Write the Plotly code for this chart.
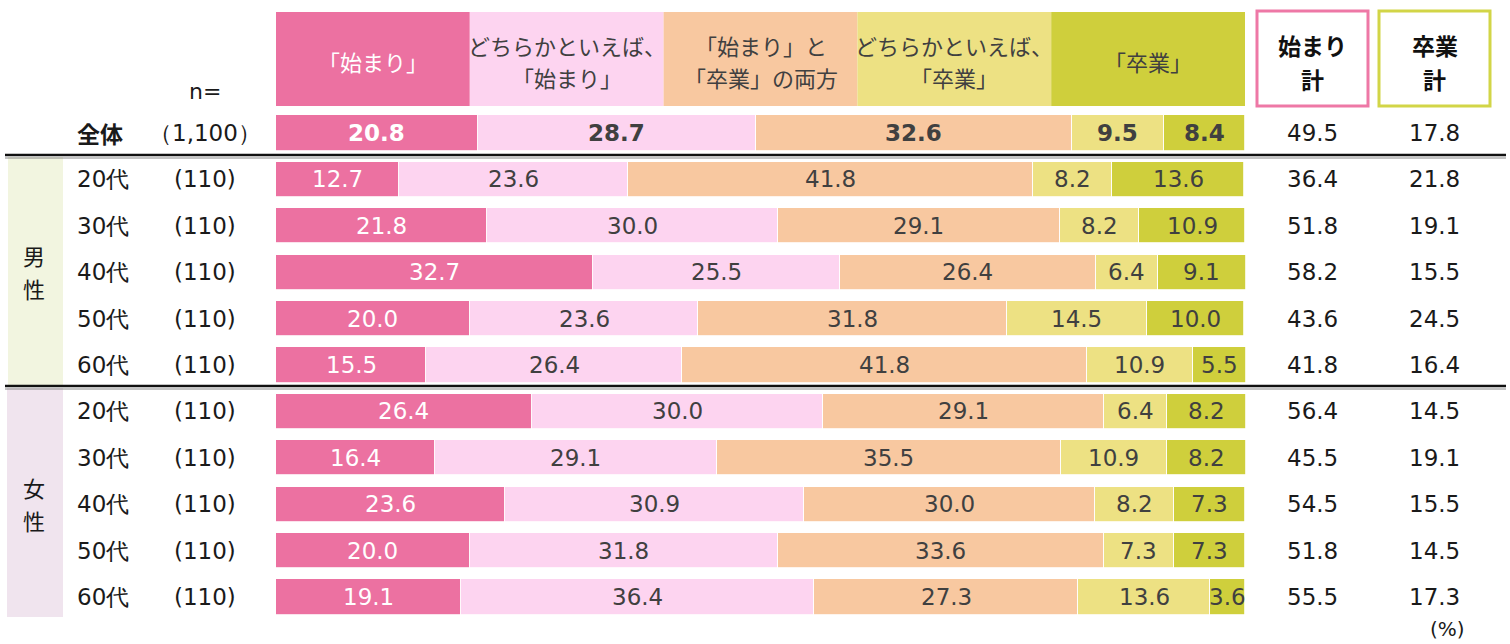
import plotly.graph_objects as go

W, H = 1510, 644

# ---------------- data ----------------
row_labels = ["全体", "20代", "30代", "40代", "50代", "60代", "20代", "30代", "40代", "50代", "60代"]
n_labels = ["（1,100）"] + ["(110)"] * 10
series_names = [["「始まり」"], ["どちらかといえば、", "「始まり」"], ["「始まり」と", "「卒業」の両方"],
                ["どちらかといえば、", "「卒業」"], ["「卒業」"]]
s_hajimari = [20.8, 12.7, 21.8, 32.7, 20.0, 15.5, 26.4, 16.4, 23.6, 20.0, 19.1]
s_dochira_h = [28.7, 23.6, 30.0, 25.5, 23.6, 26.4, 30.0, 29.1, 30.9, 31.8, 36.4]
s_ryouhou = [32.6, 41.8, 29.1, 26.4, 31.8, 41.8, 29.1, 35.5, 30.0, 33.6, 27.3]
s_dochira_s = [9.5, 8.2, 8.2, 6.4, 14.5, 10.9, 6.4, 10.9, 8.2, 7.3, 13.6]
s_sotsugyo = [8.4, 13.6, 10.9, 9.1, 10.0, 5.5, 8.2, 8.2, 7.3, 7.3, 3.6]
total_hajimari = [49.5, 36.4, 51.8, 58.2, 43.6, 41.8, 56.4, 45.5, 54.5, 51.8, 55.5]
total_sotsugyo = [17.8, 21.8, 19.1, 15.5, 24.5, 16.4, 14.5, 19.1, 15.5, 14.5, 17.3]
total_headers = [["始まり", "計"], ["卒業", "計"]]
group_labels = [["男", "性"], ["女", "性"]]

series = [s_hajimari, s_dochira_h, s_ryouhou, s_dochira_s, s_sotsugyo]
colors = ["#EC71A1", "#FDD4F0", "#F8C8A0", "#EDE183", "#CFCF3C"]
text_colors = ["#FFFFFF", "#404040", "#404040", "#404040", "#404040"]

NUM_FONT = "DejaVu Sans"
JP_FONT = "Noto Sans CJK JP"

# ---------------- geometry helpers ----------------
x0_px, x100_px = 276, 1245
ppu = (x100_px - x0_px) / 100.0
x_range = [-x0_px / ppu, (W - x0_px) / ppu]
row0_px, row_step = 133, 46.4
y_range = [(H - row0_px) / row_step, -row0_px / row_step]

def px(x):
    return x / W

def py(y):
    return 1 - y / H

def ux(xp):
    return (xp - x0_px) / ppu

rows = list(range(len(row_labels)))

fig = go.Figure()
for s, name, c in zip(series, series_names, colors):
    fig.add_trace(go.Bar(
        y=rows, x=s, orientation="h", name="".join(name),
        marker=dict(color=c, line=dict(color="white", width=0.8)),
        width=0.76, hoverinfo="skip", showlegend=False,
    ))

annotations = []
shapes = []

def lines_at(lines, y_center, spacing):
    n = len(lines)
    return [(ln, y_center + (j - (n - 1) / 2) * spacing) for j, ln in enumerate(lines)]

# segment labels
for i in rows:
    cum = 0.0
    for k, s in enumerate(series):
        v = s[i]
        mid = cum + v / 2
        cum += v
        annotations.append(dict(
            x=mid, y=i, xref="x", yref="y", text=f"<b>{v:.1f}</b>" if i == 0 else f"{v:.1f}",
            showarrow=False, font=dict(family=NUM_FONT, size=23, color=text_colors[k]),
            xanchor="center", yanchor="middle"))

# totals
for i in rows:
    for val, xp in ((total_hajimari[i], 1312), (total_sotsugyo[i], 1434)):
        annotations.append(dict(
            x=ux(xp), y=i, xref="x", yref="y", text=f"{val:.1f}", showarrow=False,
            font=dict(family=NUM_FONT, size=23, color="#1a1a1a"),
            xanchor="center", yanchor="middle"))

# row labels
for i in rows:
    lab = f"<b>{row_labels[i]}</b>" if i == 0 else row_labels[i]
    annotations.append(dict(
        x=px(75), y=i, xref="paper", yref="y", text=lab, showarrow=False,
        font=dict(family=JP_FONT if i == 0 else NUM_FONT, size=23, color="#1a1a1a"),
        xanchor="left", yanchor="middle"))
    annotations.append(dict(
        x=px(205), y=i, xref="paper", yref="y", text=n_labels[i], showarrow=False,
        font=dict(family=NUM_FONT, size=23, color="#1a1a1a"),
        xanchor="center", yanchor="middle"))

annotations.append(dict(x=px(205), y=py(92), xref="paper", yref="paper", text="n=",
                        showarrow=False, font=dict(family=NUM_FONT, size=22, color="#1a1a1a"),
                        xanchor="center", yanchor="middle"))

# header cells
for k, (name, c) in enumerate(zip(series_names, colors)):
    shapes.append(dict(type="rect", xref="x", yref="paper", x0=20 * k, x1=20 * (k + 1),
                       y0=py(106), y1=py(12), fillcolor=c, line=dict(width=0), layer="below"))
    for ln, yc in lines_at(name, 61, 33):
        annotations.append(dict(x=20 * k + 10, y=py(yc), xref="x", yref="paper", text=ln,
                                showarrow=False, font=dict(family=JP_FONT, size=22, color=text_colors[k]),
                                xanchor="center", yanchor="middle"))

# total header boxes
for (xa, xb, col), lines in zip(((1257, 1368, "#EE78A6"), (1379, 1490, "#D2D547")), total_headers):
    shapes.append(dict(type="rect", xref="paper", yref="paper", x0=px(xa), x1=px(xb),
                       y0=py(106), y1=py(11), fillcolor="white", line=dict(color=col, width=3)))
    for ln, yc in lines_at(lines, 62, 33):
        annotations.append(dict(x=px((xa + xb) / 2), y=py(yc), xref="paper", yref="paper",
                                text=f"<b>{ln}</b>", showarrow=False,
                                font=dict(family=JP_FONT, size=23, color="#111111"),
                                xanchor="center", yanchor="middle"))

# group bands
shapes.append(dict(type="rect", xref="paper", yref="paper", x0=px(8), x1=px(63),
                   y0=py(385), y1=py(157), fillcolor="#F2F5E0", line=dict(width=0), layer="below"))
shapes.append(dict(type="rect", xref="paper", yref="paper", x0=px(7), x1=px(63),
                   y0=py(617), y1=py(388), fillcolor="#F0E4EE", line=dict(width=0), layer="below"))
for lines, yc0 in zip(group_labels, (271, 503)):
    for ln, yc in lines_at(lines, yc0, 33):
        annotations.append(dict(x=px(34), y=py(yc), xref="paper", yref="paper", text=ln,
                                showarrow=False, font=dict(family=JP_FONT, size=22, color="#1a1a1a"),
                                xanchor="center", yanchor="middle"))

# separator lines (double)
for yl in (155, 386):
    shapes.append(dict(type="line", xref="paper", yref="paper", x0=px(5), x1=px(1506),
                       y0=py(yl), y1=py(yl), line=dict(color="#111111", width=2.5)))
    shapes.append(dict(type="line", xref="paper", yref="paper", x0=px(5), x1=px(1506),
                       y0=py(yl + 3), y1=py(yl + 3), line=dict(color="#888888", width=1)))

annotations.append(dict(x=px(1447), y=py(629), xref="paper", yref="paper", text="(%)",
                        showarrow=False, font=dict(family=NUM_FONT, size=20, color="#1a1a1a"),
                        xanchor="center", yanchor="middle"))

fig.update_layout(
    width=W, height=H, margin=dict(l=0, r=0, t=0, b=0),
    paper_bgcolor="white", plot_bgcolor="white", barmode="stack", bargap=0,
    xaxis=dict(range=x_range, domain=[0, 1], visible=False, fixedrange=True),
    yaxis=dict(range=y_range, domain=[0, 1], visible=False, fixedrange=True),
    annotations=annotations, shapes=shapes,
)

fig.write_html(
    "out.html",
    config={"displayModeBar": False},
    post_script="document.body.style.margin='0';document.body.style.padding='0';"
                "document.body.style.overflow='hidden';",
)
